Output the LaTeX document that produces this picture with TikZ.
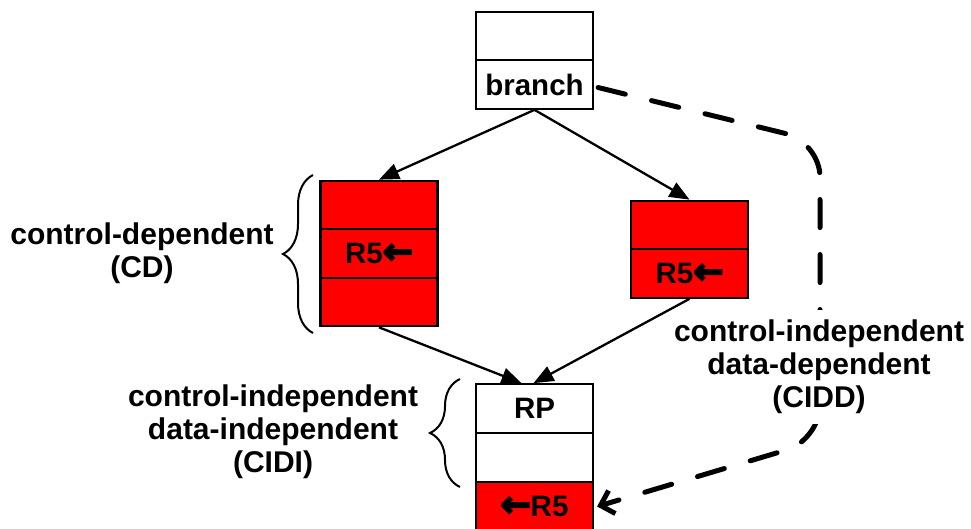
\documentclass[tikz,border=0pt]{standalone}
\usepackage{fontspec}
\setmainfont{Liberation Sans}
\newfontfamily\arrowfont[FakeBold=5]{DejaVu Sans}
\usetikzlibrary{arrows.meta,decorations.pathreplacing}
\newcommand{\myarr}{{\arrowfont\bfseries\fontsize{36}{33}\selectfont ←}}
\begin{document}
\begin{tikzpicture}[x=1pt,y=-1pt,
  cell/.style={draw=black,line width=2.2pt,minimum width=117pt,minimum height=48.5pt,inner sep=0pt,font=\bfseries\fontsize{29.5}{33}\selectfont},
  redcell/.style={cell,fill=red},
  lbl/.style={align=center,inner sep=0pt,font=\bfseries\fontsize{30}{33}\selectfont},
  flow/.style={line width=2.3pt,-{Triangle[length=20pt,width=16pt]}},
  brc/.style={decorate,decoration={brace,amplitude=30pt},line width=2pt},
  dep/.style={line width=5pt,line cap=round,dash pattern=on 28pt off 27pt,rounded corners=35pt,-{Straight Barb[length=12pt,width=24pt]}}
]
\useasboundingbox (0,0) rectangle (971,529);
% boxes
\node[cell] (T1) at (534.5,36) {};
\node[cell] (T2) at (534.5,84.5) {branch};
\node[redcell] (L1) at (379,205) {};
\node[redcell] (L2) at (379,253.5) {R5\myarr};
\node[redcell] (L3) at (379,302) {};
\node[redcell] (R1) at (689.5,225) {};
\node[redcell] (R2) at (689.5,273.5) {R5\myarr};
\node[cell] (B1) at (534.5,408.5) {RP};
\node[cell] (B2) at (534.5,457.5) {};
\node[redcell] (B3) at (534.5,506.5) {\myarr R5};
% flow arrows
\draw[flow] (T2.south) -- (L1.north);
\draw[flow] (T2.south) -- (R1.north);
\draw[flow] (L3.south) -- ([xshift=-13pt]B1.north);
\draw[flow] (R2.south) -- ([xshift=-1pt]B1.north);
% dependence
\coordinate (c1) at (820,142);
\coordinate (c2) at (820,440);
\draw[dep] ([xshift=4pt,yshift=-3pt]T2.east) -- (c1) -- (c2) -- ([xshift=3pt]B3.east);
\node[lbl,fill=white,inner ysep=10pt] (cidd) at (819,367) {control-independent\\data-dependent\\(CIDD)};
% braces
\draw[brc] (313,333) -- (313,175);
\draw[brc] (460,487) -- (460,379);
% labels
\node[lbl] (cd) at (142,253) {control-dependent\\(CD)};
\node[lbl] (cidi) at (273,432) {control-independent\\data-independent\\(CIDI)};
\end{tikzpicture}
\end{document}
